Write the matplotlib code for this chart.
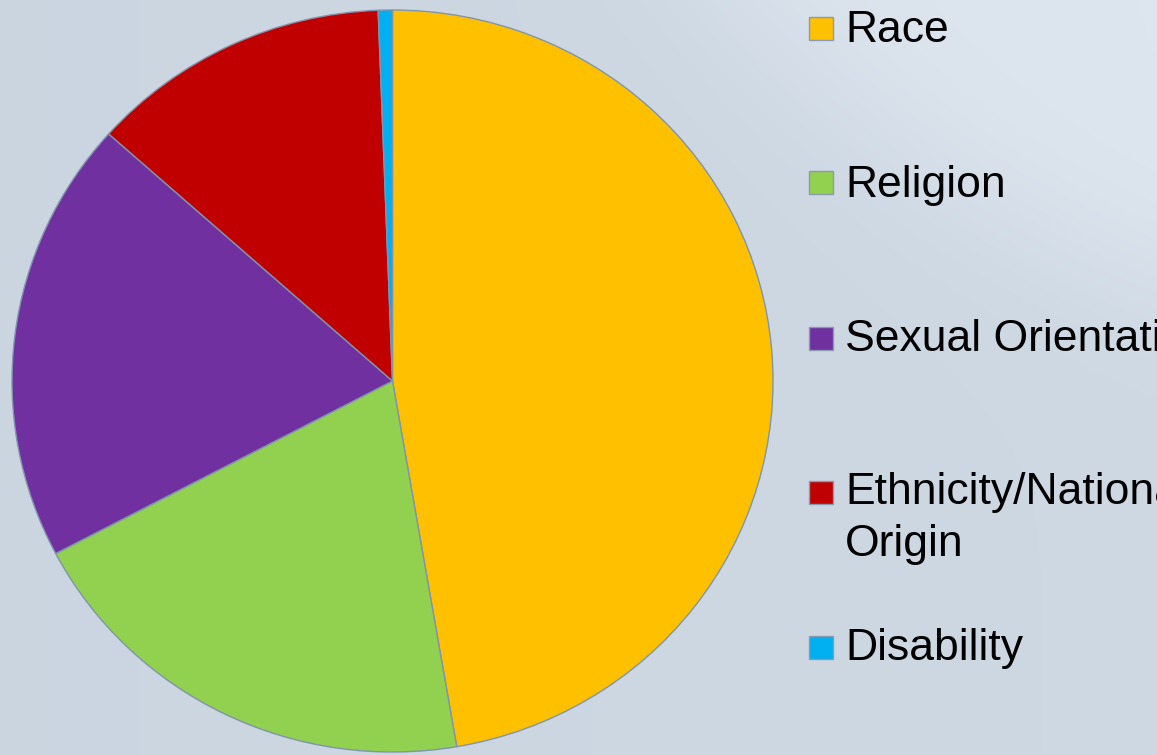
import numpy as np
import matplotlib.pyplot as plt
from matplotlib.patches import Rectangle

# hate crime share by bias motivation (%)
labels = ['Race', 'Religion', 'Sexual Orientation', 'Ethnicity/National\nOrigin', 'Disability']
shares = [47.3, 20.0, 19.3, 12.8, 0.6]
colors = ['#FFC000', '#92D050', '#7030A0', '#C00000', '#00B0F0']

W, H = 1157, 755
fig = plt.figure(figsize=(W / 100, H / 100), dpi=100)

# soft slide-style background with a lighter swoosh to the upper right
bg = fig.add_axes([0, 0, 1, 1], zorder=-10)
yy, xx = np.mgrid[0:H, 0:W]
base = np.array([0.795, 0.838, 0.882])
light = np.array([0.875, 0.905, 0.940])
d = np.hypot(xx - 1500, yy + 700)
t = 1 / (1 + np.exp((d - 1040) / 40))
t = 0.15 * (xx / W) + 0.75 * t
img = base[None, None, :] * (1 - t[..., None]) + light[None, None, :] * t[..., None]
bg.imshow(img, aspect='auto', extent=(0, 1, 0, 1), origin='upper')
bg.axis('off')

# pie, slightly wider than tall as in the slide
ax = fig.add_axes([12 / W, 3 / H, 761 / W, 742 / H])
ax.pie(shares, colors=colors, startangle=90, counterclock=False, radius=1,
       wedgeprops=dict(edgecolor='#7f95ad', linewidth=1.0))
ax.set_aspect('auto')
ax.set_xlim(-1, 1)
ax.set_ylim(-1, 1)
ax.axis('off')

# legend drawn by hand so the long labels run off the slide edge
box_y = [28.5, 182, 338.5, 492, 647.5]
text_y = [42, 197, 351, 504, 660]
for lab, col, by, ty in zip(labels, colors, box_y, text_y):
    fig.add_artist(Rectangle((809 / W, 1 - (by + 11.5) / H), 24 / W, 23 / H,
                             transform=fig.transFigure, facecolor=col,
                             edgecolor='#8a9bb0', linewidth=1.0))
    for i, line in enumerate(lab.split('\n')):
        fig.text(845 / W, 1 - (ty + 52 * i) / H, line, fontsize=32,
                 family='Liberation Sans', va='baseline', ha='left', color='black')

fig.savefig('out.png', dpi=100)
